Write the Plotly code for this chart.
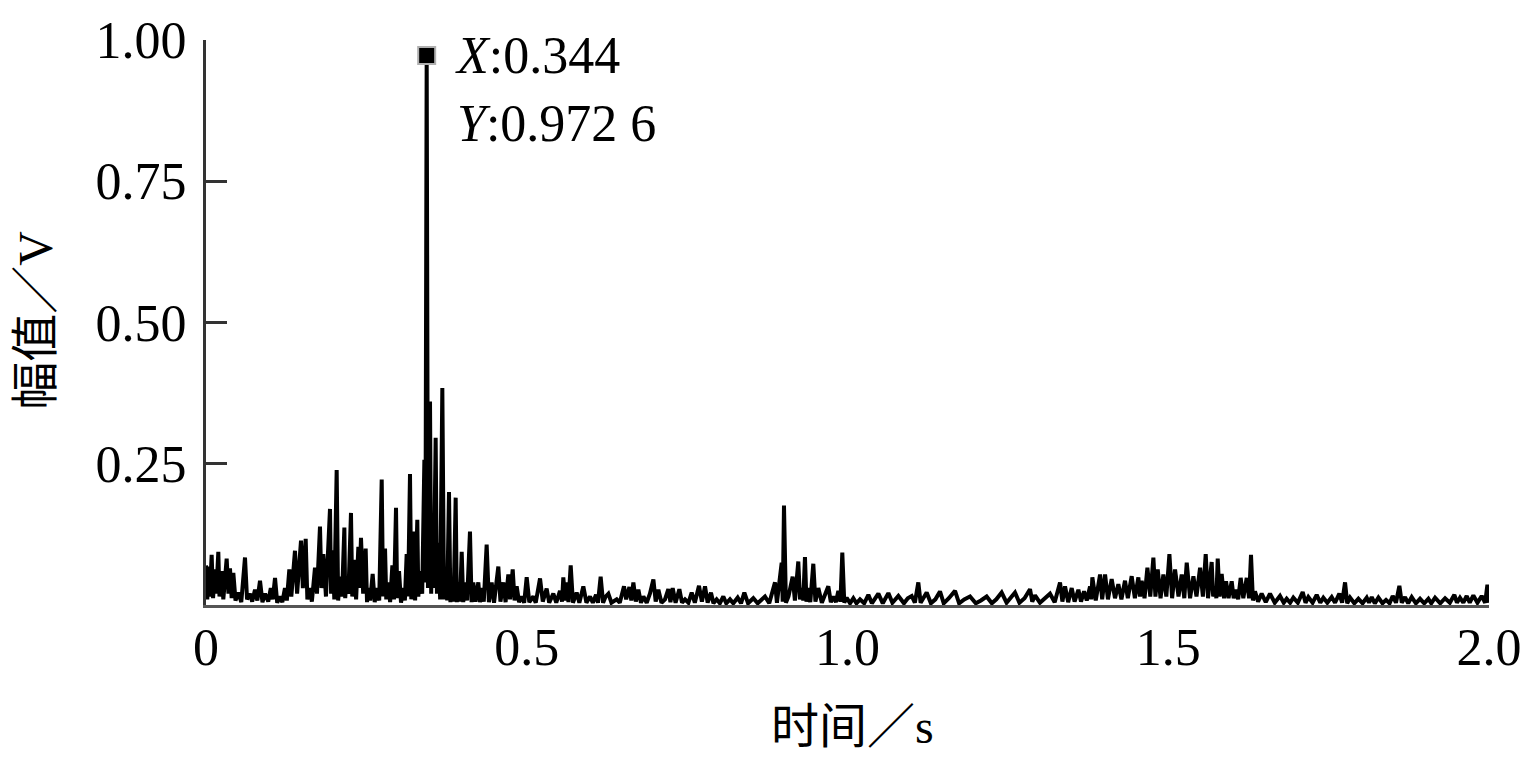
import plotly.graph_objects as go

# ---- data (time in s, amplitude in V) ----
t_seg1 = [0.000, 0.002, 0.0036, 0.006, 0.0088, 0.011, 0.014, 0.016, 0.0192, 0.021, 0.0244, 0.027,
          0.0322, 0.035, 0.0374, 0.040, 0.0426, 0.046, 0.0504, 0.055, 0.0608, 0.064, 0.0686, 0.072,
          0.0764, 0.080, 0.0842, 0.088, 0.0920, 0.097, 0.101, 0.104, 0.1076, 0.111, 0.1154, 0.119,
          0.1231, 0.126, 0.1299, 0.133, 0.1387, 0.142, 0.1481, 0.151, 0.1554, 0.158, 0.1621, 0.165,
          0.1699, 0.173, 0.1777, 0.180, 0.1829, 0.187, 0.1933, 0.195, 0.1975, 0.200, 0.2037, 0.206,
          0.2089, 0.212, 0.2157, 0.217, 0.2193, 0.222, 0.2260, 0.228, 0.2312, 0.234, 0.2375, 0.239,
          0.2416, 0.245, 0.2489, 0.251, 0.2531, 0.256, 0.2598, 0.263, 0.2661, 0.270, 0.2739, 0.276,
          0.2791, 0.281, 0.2843, 0.287, 0.2905, 0.293, 0.2962, 0.298, 0.3009, 0.304, 0.3076, 0.310,
          0.3128, 0.315, 0.3180, 0.320, 0.3232, 0.326, 0.3294, 0.331, 0.3336, 0.337, 0.3404, 0.342,
          0.344, 0.346, 0.3492, 0.351, 0.3528, 0.355, 0.3580, 0.360, 0.3622, 0.365, 0.3684, 0.371,
          0.3736, 0.376, 0.3788, 0.381, 0.3840, 0.386, 0.3892, 0.391, 0.3934, 0.396, 0.3986, 0.401,
          0.4038, 0.407, 0.4115, 0.414, 0.4167, 0.420, 0.4245, 0.427, 0.4297, 0.433, 0.4375, 0.441,
          0.4453, 0.449]
v_seg1 = [0.070, 0.010, 0.068, 0.015, 0.089, 0.012, 0.063, 0.020, 0.094, 0.015, 0.060, 0.010,
          0.082, 0.020, 0.065, 0.012, 0.057, 0.008, 0.022, 0.005, 0.084, 0.010, 0.020, 0.006,
          0.027, 0.008, 0.043, 0.005, 0.020, 0.006, 0.030, 0.010, 0.048, 0.004, 0.015, 0.005,
          0.030, 0.008, 0.063, 0.015, 0.096, 0.020, 0.114, 0.030, 0.117, 0.010, 0.030, 0.006,
          0.066, 0.020, 0.139, 0.030, 0.090, 0.015, 0.170, 0.020, 0.097, 0.010, 0.239, 0.008,
          0.050, 0.015, 0.137, 0.012, 0.050, 0.020, 0.163, 0.015, 0.080, 0.010, 0.103, 0.030,
          0.119, 0.020, 0.100, 0.005, 0.030, 0.008, 0.055, 0.005, 0.030, 0.008, 0.222, 0.015,
          0.100, 0.010, 0.040, 0.005, 0.070, 0.010, 0.172, 0.012, 0.060, 0.004, 0.030, 0.008,
          0.090, 0.015, 0.232, 0.010, 0.130, 0.008, 0.151, 0.015, 0.060, 0.020, 0.257, 0.040,
          0.9726, 0.030, 0.360, 0.020, 0.130, 0.030, 0.296, 0.020, 0.110, 0.010, 0.384, 0.010,
          0.060, 0.008, 0.200, 0.005, 0.040, 0.006, 0.190, 0.005, 0.040, 0.006, 0.094, 0.005,
          0.040, 0.008, 0.130, 0.005, 0.040, 0.006, 0.040, 0.005, 0.030, 0.006, 0.107, 0.005,
          0.040, 0.004]

t_seg2 = [0.4557, 0.459, 0.4635, 0.467, 0.4713, 0.474, 0.4781, 0.481, 0.4843, 0.488, 0.4921, 0.496,
          0.4999, 0.504, 0.5103, 0.514, 0.5207, 0.525, 0.5310, 0.535, 0.5414, 0.546, 0.5518, 0.555,
          0.5570, 0.560, 0.5622, 0.565, 0.5685, 0.572, 0.5778, 0.582, 0.5882, 0.593, 0.5986, 0.603,
          0.608, 0.611, 0.6152, 0.619, 0.623, 0.6272, 0.632, 0.6402, 0.645, 0.6516, 0.655, 0.6600,
          0.663, 0.6662, 0.670, 0.6740, 0.678, 0.6818, 0.687, 0.692, 0.6974, 0.701, 0.7052, 0.710,
          0.7155, 0.7207, 0.724, 0.7275, 0.732, 0.7379, 0.742, 0.7467, 0.752, 0.7571, 0.762, 0.7685,
          0.773, 0.7779, 0.782, 0.7872, 0.791, 0.7960, 0.801, 0.8064, 0.811, 0.8168, 0.822, 0.8288,
          0.834, 0.8392, 0.845, 0.8532, 0.860, 0.8714, 0.878, 0.8870, 0.890, 0.8974, 0.899, 0.9010,
          0.904, 0.908, 0.9145, 0.918, 0.9233, 0.926, 0.9285, 0.931, 0.9337, 0.936, 0.9389, 0.942,
          0.9467, 0.950, 0.9545, 0.960, 0.9701, 0.974, 0.9779, 0.982, 0.9857, 0.989, 0.9919, 0.995,
          0.9987, 1.004, 1.0091, 1.014, 1.0195, 1.026, 1.0325, 1.038]
v_seg2 = [0.068, 0.006, 0.040, 0.005, 0.054, 0.010, 0.063, 0.008, 0.033, 0.005, 0.015, 0.004,
          0.049, 0.005, 0.015, 0.004, 0.047, 0.006, 0.029, 0.004, 0.020, 0.004, 0.025, 0.006,
          0.049, 0.008, 0.040, 0.005, 0.070, 0.004, 0.022, 0.004, 0.033, 0.004, 0.015, 0.004,
          0.018, 0.004, 0.050, 0.004, 0.015, 0.020, 0.004, 0.010, 0.004, 0.033, 0.010, 0.032,
          0.008, 0.040, 0.006, 0.027, 0.004, 0.015, 0.004, 0.020, 0.045, 0.006, 0.027, 0.004,
          0.010, 0.028, 0.005, 0.030, 0.004, 0.028, 0.004, 0.010, 0.004, 0.022, 0.004, 0.034,
          0.006, 0.033, 0.004, 0.022, 0.003, 0.010, 0.003, 0.015, 0.003, 0.010, 0.003, 0.013,
          0.003, 0.022, 0.003, 0.012, 0.003, 0.015, 0.003, 0.040, 0.004, 0.075, 0.006, 0.176,
          0.004, 0.015, 0.050, 0.008, 0.077, 0.010, 0.030, 0.008, 0.085, 0.006, 0.030, 0.005,
          0.073, 0.006, 0.030, 0.004, 0.033, 0.005, 0.015, 0.005, 0.025, 0.006, 0.093, 0.004,
          0.013, 0.003, 0.012, 0.003, 0.010, 0.003, 0.018, 0.003]

t_seg3 = [1.0481, 1.055, 1.0637, 1.070, 1.0793, 1.088, 1.0940, 1.1001, 1.105, 1.1104, 1.114, 1.1234,
          1.130, 1.137, 1.1442, 1.150, 1.158, 1.1676, 1.174, 1.182, 1.1910, 1.200, 1.208, 1.2169,
          1.225, 1.232, 1.2403, 1.248, 1.2611, 1.268, 1.276, 1.2845, 1.288, 1.2923, 1.300, 1.308,
          1.3157, 1.323, 1.3313, 1.335, 1.3391, 1.344, 1.3495, 1.354, 1.3599, 1.364, 1.3687, 1.373,
          1.3781, 1.380, 1.3817, 1.387, 1.3937, 1.397, 1.4015, 1.406, 1.4118, 1.417, 1.4222, 1.427,
          1.4326, 1.437, 1.4430, 1.448, 1.4534, 1.456, 1.4586, 1.463, 1.4675, 1.472, 1.4768, 1.480,
          1.4836, 1.488, 1.4924, 1.497, 1.5018, 1.506, 1.5106, 1.516, 1.5210, 1.525, 1.5288, 1.534,
          1.5392, 1.544, 1.5496, 1.554, 1.5584, 1.562]
v_seg3 = [0.020, 0.003, 0.021, 0.004, 0.016, 0.003, 0.012, 0.016, 0.004, 0.040, 0.004, 0.022,
          0.003, 0.010, 0.024, 0.003, 0.012, 0.025, 0.003, 0.010, 0.015, 0.003, 0.008, 0.015,
          0.003, 0.010, 0.022, 0.004, 0.022, 0.004, 0.012, 0.028, 0.006, 0.017, 0.004, 0.012,
          0.020, 0.005, 0.040, 0.006, 0.033, 0.005, 0.030, 0.006, 0.027, 0.006, 0.024, 0.008,
          0.033, 0.010, 0.049, 0.008, 0.054, 0.010, 0.054, 0.010, 0.046, 0.012, 0.037, 0.010,
          0.043, 0.012, 0.051, 0.012, 0.049, 0.015, 0.043, 0.012, 0.066, 0.015, 0.084, 0.015,
          0.063, 0.012, 0.054, 0.015, 0.090, 0.012, 0.063, 0.015, 0.054, 0.012, 0.075, 0.012,
          0.051, 0.015, 0.066, 0.015, 0.090, 0.012]

t_seg4 = [1.5677, 1.570, 1.5729, 1.575, 1.5771, 1.580, 1.5833, 1.587, 1.5901, 1.594, 1.5989, 1.602,
          1.6051, 1.609, 1.6129, 1.617, 1.6223, 1.626, 1.6290, 1.632, 1.6352, 1.640, 1.6456, 1.652,
          1.6586, 1.666, 1.6742, 1.680, 1.6846, 1.690, 1.6950, 1.702, 1.7096, 1.714, 1.7184, 1.725,
          1.7314, 1.737, 1.7418, 1.748, 1.7548, 1.760, 1.7667, 1.771, 1.7756, 1.779, 1.7834, 1.790,
          1.7964, 1.803, 1.8094, 1.813, 1.8172, 1.822, 1.8276, 1.834, 1.8395, 1.845, 1.8499, 1.855,
          1.8603, 1.864, 1.8691, 1.874, 1.8795, 1.886, 1.8925, 1.899, 1.9055, 1.910, 1.9159, 1.924,
          1.9315, 1.939, 1.9460, 1.950, 1.9548, 1.960, 1.9652, 1.970, 1.9756, 1.982, 1.9886, 1.994,
          1.9975, 2.000]
v_seg4 = [0.076, 0.015, 0.033, 0.012, 0.082, 0.015, 0.055, 0.012, 0.042, 0.012, 0.042, 0.012,
          0.027, 0.010, 0.048, 0.012, 0.048, 0.012, 0.089, 0.008, 0.024, 0.006, 0.020, 0.005,
          0.020, 0.004, 0.016, 0.004, 0.011, 0.004, 0.013, 0.004, 0.023, 0.004, 0.014, 0.004,
          0.018, 0.004, 0.013, 0.004, 0.014, 0.004, 0.020, 0.004, 0.040, 0.003, 0.013, 0.003,
          0.011, 0.003, 0.013, 0.004, 0.014, 0.003, 0.013, 0.003, 0.009, 0.003, 0.016, 0.004,
          0.034, 0.004, 0.014, 0.003, 0.014, 0.003, 0.011, 0.003, 0.011, 0.003, 0.013, 0.003,
          0.012, 0.004, 0.018, 0.004, 0.013, 0.004, 0.016, 0.004, 0.017, 0.004, 0.016, 0.004,
          0.036, 0.004]

peak_t = [0.344]
peak_v = [0.9726]

x_ticks = [0, 0.5, 1.0, 1.5, 2.0]
x_tick_text = ["0", "0.5", "1.0", "1.5", "2.0"]
y_ticks = [0.25, 0.50, 0.75, 1.00]
y_tick_text = ["0.25", "0.50", "0.75", "1.00"]

x_title = "时间／s"
y_title = "幅值／V"
peak_label = "<i>X</i>:0.344<br><i>Y</i>:0.972 6"

# ---- figure ----
t_all = t_seg1 + t_seg2 + t_seg3 + t_seg4
v_all = v_seg1 + v_seg2 + v_seg3 + v_seg4

FONT = "Liberation Serif, Times New Roman, Noto Sans CJK SC, serif"

W, H = 1529, 764
OFF = 8  # default page (body) margin of the html page
# plot area in page pixels (from the reference): x 206..1489, y 40..605.5
L = 206 - OFF
T = 40 - OFF
R = W - (1489 - OFF)
B = H - (605.5 - OFF)
plot_w = W - L - R
plot_h = H - T - B


def px_to_paper_x(px):
    return (px - OFF - L) / plot_w


def px_to_paper_y(py):
    return (H - B - (py - OFF)) / plot_h


fig = go.Figure()
fig.add_trace(go.Scatter(x=t_all, y=v_all, mode="lines",
                         line=dict(color="black", width=4), showlegend=False,
                         hoverinfo="skip"))
fig.add_trace(go.Scatter(x=peak_t, y=peak_v, mode="markers",
                         marker=dict(symbol="square", size=17, color="black",
                                     line=dict(color="#b0b0b0", width=2)),
                         showlegend=False))

# peak read-out
fig.add_annotation(x=peak_t[0], y=0.913, xref="x", yref="y", text=peak_label,
                   showarrow=False, xanchor="left", yanchor="middle", align="left",
                   xshift=26, font=dict(family=FONT, size=52, color="black"))

# axis titles (pixel-placed)
fig.add_annotation(x=px_to_paper_x(852), xref="paper", y=px_to_paper_y(727), yref="paper",
                   text=x_title, showarrow=False, xanchor="center", yanchor="middle",
                   font=dict(family=FONT, size=48, color="black"))
fig.add_annotation(x=px_to_paper_x(36), xref="paper", y=px_to_paper_y(321), yref="paper",
                   text=y_title, showarrow=False, xanchor="center", yanchor="middle",
                   textangle=-90, font=dict(family=FONT, size=48, color="black"))

fig.update_layout(
    width=W, height=H,
    margin=dict(l=L, r=R, t=T, b=B),
    paper_bgcolor="white", plot_bgcolor="white",
    font=dict(family=FONT, size=52, color="black"),
    showlegend=False,
)

fig.update_xaxes(range=[0, 2.0], tickvals=x_ticks, ticktext=x_tick_text,
                 showgrid=False, zeroline=False, showline=True, linecolor="#555",
                 linewidth=3, ticks="", ticklabelstandoff=-5, automargin=False,
                 tickfont=dict(family=FONT, size=52, color="black"))
fig.update_yaxes(range=[0, 1.0], tickvals=y_ticks, ticktext=y_tick_text,
                 showgrid=False, zeroline=False, showline=True, linecolor="#333",
                 linewidth=3, ticks="inside", ticklen=21, tickwidth=3, tickcolor="#333",
                 ticklabelstandoff=6, automargin=False,
                 tickfont=dict(family=FONT, size=52, color="black"))

fig.write_html("out.html")
